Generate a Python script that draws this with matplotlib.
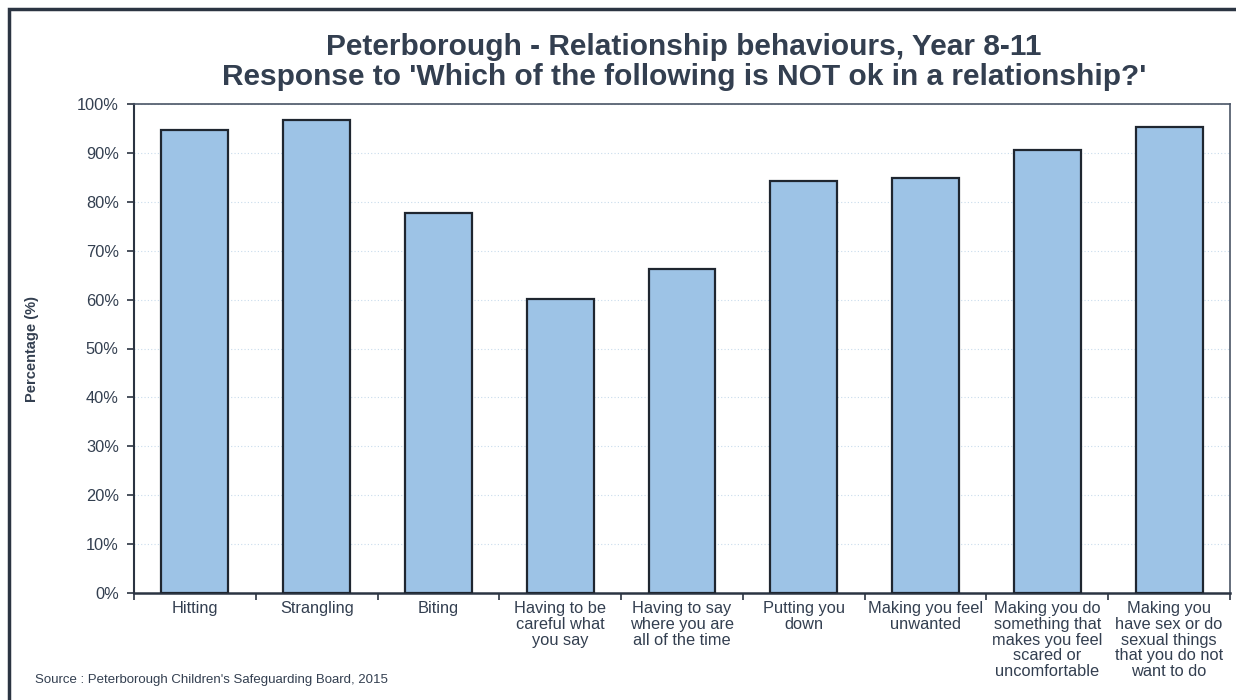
import matplotlib
matplotlib.use("Agg")
import matplotlib.pyplot as plt
from matplotlib.patches import Rectangle
from matplotlib.ticker import PercentFormatter

plt.rcParams['font.family'] = ['Liberation Sans', 'DejaVu Sans']

categories = [
    "Hitting",
    "Strangling",
    "Biting",
    "Having to be\ncareful what\nyou say",
    "Having to say\nwhere you are\nall of the time",
    "Putting you\ndown",
    "Making you feel\nunwanted",
    "Making you do\nsomething that\nmakes you feel\nscared or\nuncomfortable",
    "Making you\nhave sex or do\nsexual things\nthat you do not\nwant to do",
]
values = [94.7, 96.7, 77.7, 60.1, 66.3, 84.3, 84.9, 90.6, 95.3]

text_col = "#333f50"
dark = "#2b3442"

fig = plt.figure(figsize=(12.36, 7.0), dpi=100)
ax = fig.add_axes([134 / 1236, 1 - 593 / 700, (1230 - 134) / 1236, (593 - 104) / 700])

# outer frame
fig.patches.append(Rectangle((9 / 1236, -0.05), 1.2, 1 - 9 / 700 + 0.05,
                             transform=fig.transFigure, fill=False,
                             edgecolor=dark, linewidth=2.5))

x = range(len(categories))
ax.bar(x, values, width=0.55, color="#9dc3e6", edgecolor="#1f2630", linewidth=1.6, zorder=3)

ax.set_xlim(-0.5, len(categories) - 0.5)
ax.set_ylim(0, 100)
ax.set_yticks(range(0, 101, 10))
ax.yaxis.set_major_formatter(PercentFormatter(decimals=0))
ax.yaxis.grid(True, linestyle=(0, (1, 2)), color="#c9dcec", linewidth=0.8, zorder=0)

ax.set_xticks([i - 0.5 for i in range(len(categories) + 1)], minor=False)
ax.set_xticklabels([])
ax.set_xticks(list(x), minor=True)
ax.set_xticklabels(categories, minor=True, fontsize=11.8, color=text_col, linespacing=1.05)
ax.tick_params(axis='x', which='minor', length=0, pad=6)
ax.tick_params(axis='x', which='major', length=5, width=1.2, color=dark, direction='out')
ax.tick_params(axis='y', length=5, width=1.2, color=dark, labelsize=11.8, labelcolor=text_col, pad=6)

for s in ax.spines.values():
    s.set_color("#4a5566")
    s.set_linewidth(1.2)
ax.spines['left'].set_color(dark)
ax.spines['bottom'].set_color(dark)
ax.spines['left'].set_linewidth(1.5)
ax.spines['bottom'].set_linewidth(1.8)

ax.set_ylabel("Percentage (%)", fontsize=10.5, fontweight='bold', color=text_col, labelpad=27)

fig.text(684 / 1236, 1 - 62 / 700,
         "Peterborough - Relationship behaviours, Year 8-11\n"
         "Response to 'Which of the following is NOT ok in a relationship?'",
         ha='center', va='center', fontsize=21.5, fontweight='bold', color=text_col, linespacing=1.12)

fig.text(35 / 1236, 1 - 680 / 700, "Source : Peterborough Children's Safeguarding Board, 2015",
         fontsize=9.5, color=text_col, va='center')

fig.savefig("out.png", dpi=100)
